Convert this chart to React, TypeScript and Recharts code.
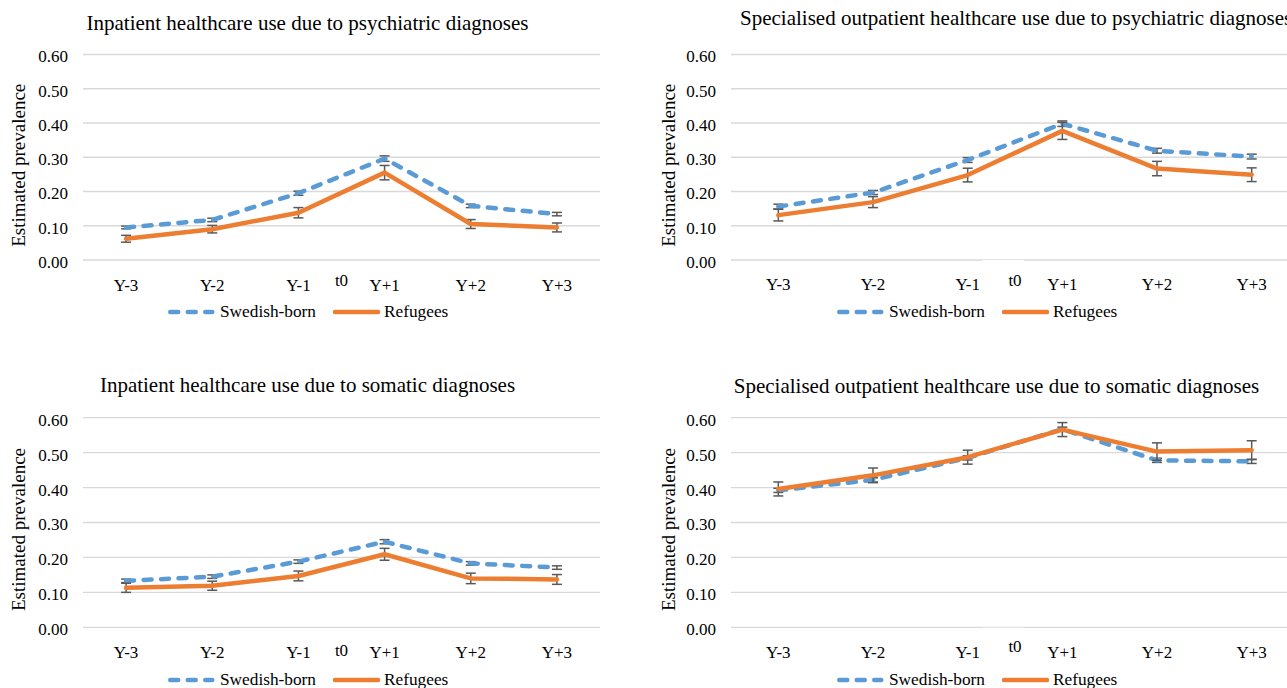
import React from 'react';
import { LineChart, Line, XAxis, YAxis, CartesianGrid, ErrorBar, Legend, Label } from 'recharts';

const categories = ['Y-3', 'Y-2', 'Y-1', 'Y+1', 'Y+2', 'Y+3'];
const yTicks = [0, 0.1, 0.2, 0.3, 0.4, 0.5, 0.6];
const seriesNames = ['Swedish-born', 'Refugees'];
const midLabel = 't0';
const yAxisTitle = 'Estimated prevalence';

const titles = [
  'Inpatient healthcare use due to psychiatric diagnoses',
  'Specialised outpatient healthcare use due to psychiatric diagnoses',
  'Inpatient healthcare use due to somatic diagnoses',
  'Specialised outpatient healthcare use due to somatic diagnoses',
];

// Panel 1: inpatient, psychiatric
const inpPsySwedish = [0.095, 0.117, 0.195, 0.296, 0.158, 0.134];
const inpPsySwedishErr = [0.004, 0.005, 0.006, 0.008, 0.005, 0.005];
const inpPsyRefugees = [0.062, 0.09, 0.138, 0.255, 0.105, 0.095];
const inpPsyRefugeesErr = [0.01, 0.011, 0.015, 0.021, 0.013, 0.013];

// Panel 2: specialised outpatient, psychiatric
const outPsySwedish = [0.156, 0.197, 0.292, 0.398, 0.319, 0.302];
const outPsySwedishErr = [0.007, 0.006, 0.007, 0.008, 0.007, 0.007];
const outPsyRefugees = [0.131, 0.169, 0.248, 0.377, 0.267, 0.249];
const outPsyRefugeesErr = [0.017, 0.016, 0.02, 0.025, 0.021, 0.02];

// Panel 3: inpatient, somatic
const inpSomSwedish = [0.133, 0.145, 0.188, 0.245, 0.183, 0.171];
const inpSomSwedishErr = [0.005, 0.005, 0.005, 0.006, 0.005, 0.005];
const inpSomRefugees = [0.113, 0.119, 0.147, 0.209, 0.14, 0.137];
const inpSomRefugeesErr = [0.013, 0.013, 0.014, 0.017, 0.015, 0.014];

// Panel 4: specialised outpatient, somatic
const outSomSwedish = [0.392, 0.422, 0.485, 0.567, 0.478, 0.475];
const outSomSwedishErr = [0.006, 0.006, 0.006, 0.006, 0.006, 0.006];
const outSomRefugees = [0.396, 0.435, 0.487, 0.566, 0.503, 0.507];
const outSomRefugeesErr = [0.02, 0.021, 0.02, 0.02, 0.025, 0.027];

const FONT = "'Liberation Serif', 'Times New Roman', serif";
const BLUE = '#5B9BD5';
const ORANGE = '#ED7D31';
const ERR = '#595959';
const GRID = '#d9d9d9';
const DASH = '8 9.5';

const buildData = (s: number[], se: number[], r: number[], re: number[]) =>
  categories.map((cat, i) => ({ cat, swedish: s[i], swedishErr: se[i], refugees: r[i], refugeesErr: re[i] }));

type PanelCfg = {
  left: number;
  top: number;
  width: number;
  height: number;
  yAxisWidth: number;
  marginTop: number;
  marginBottom: number;
  marginRight: number;
  data: any[];
  title: string;
  titleX: number;
  titleY: number;
  titleAnchor: 'center' | 'left';
  tickMargin: number;
  t0Dy: number;
  t0Mask: boolean;
  legendTop: number;
  legendLeft: number;
  yLabelDy: number;
};

const LegendContent = () => (
  <div style={{ display: 'flex', alignItems: 'center', whiteSpace: 'nowrap', fontFamily: FONT, fontSize: 17.3, lineHeight: '20px', color: '#000' }}>
    <svg width={47} height={10} style={{ display: 'block' }}>
      <line x1={2.25} y1={5} x2={44.25} y2={5} stroke={BLUE} strokeWidth={4.5} strokeDasharray={DASH} strokeLinecap="round" />
    </svg>
    <span style={{ marginLeft: 5 }}>{seriesNames[0]}</span>
    <svg width={47} height={10} style={{ display: 'block', marginLeft: 17 }}>
      <line x1={2} y1={5} x2={45} y2={5} stroke={ORANGE} strokeWidth={4.5} strokeLinecap="round" />
    </svg>
    <span style={{ marginLeft: 4 }}>{seriesNames[1]}</span>
  </div>
);

const Panel = (c: PanelCfg) => {
  const plotWidth = c.width - c.yAxisWidth - c.marginRight;
  const band = plotWidth / categories.length;

  const XTick = (props: any) => {
    const { x, y, payload } = props;
    return (
      <g>
        {payload.value === 'Y+1' && c.t0Mask && (
          <rect x={x - band / 2 - 33} y={y - 24} width={42} height={34} fill="#fff" />
        )}
        <text x={x} y={y} dy="0.35em" textAnchor="middle" style={{ fontFamily: FONT, fontSize: 17 }} fill="#000">
          {payload.value}
        </text>
        {payload.value === 'Y+1' && (
          <text x={x - band / 2} y={y + c.t0Dy} dy="0.35em" textAnchor="middle" style={{ fontFamily: FONT, fontSize: 17 }} fill="#000">
            {midLabel}
          </text>
        )}
      </g>
    );
  };

  const YTick = (props: any) => {
    const { x, y, payload } = props;
    return (
      <text x={x} y={y + 2} dy="0.35em" textAnchor="end" style={{ fontFamily: FONT, fontSize: 17 }} fill="#000">
        {Number(payload.value).toFixed(2)}
      </text>
    );
  };

  const YLabel = (props: any) => {
    const vb = props.viewBox || { x: 0, y: 0, width: 0, height: 0 };
    const cx = vb.x + 18;
    const cy = vb.y + vb.height / 2 + c.yLabelDy;
    return (
      <text x={cx} y={cy} transform={`rotate(-90, ${cx}, ${cy})`} textAnchor="middle" dy="0.35em" style={{ fontFamily: FONT, fontSize: 19 }} fill="#000">
        {yAxisTitle}
      </text>
    );
  };

  return (
    <div style={{ position: 'absolute', left: c.left, top: c.top, width: c.width, height: c.height }}>
      <div
        style={{
          position: 'absolute',
          left: c.titleAnchor === 'center' ? c.titleX - 400 : c.titleX,
          width: c.titleAnchor === 'center' ? 800 : undefined,
          textAlign: c.titleAnchor === 'center' ? 'center' : 'left',
          top: c.titleY - 12,
          lineHeight: '24px',
          fontFamily: FONT,
          fontSize: 21,
          whiteSpace: 'nowrap',
          color: '#000',
          zIndex: 2,
        }}
      >
        {c.title}
      </div>
      <LineChart
        width={c.width}
        height={c.height}
        data={c.data}
        margin={{ top: c.marginTop, right: c.marginRight, bottom: c.marginBottom, left: 0 }}
      >
        <CartesianGrid vertical={false} stroke={GRID} strokeWidth={1.3} />
        <XAxis
          dataKey="cat"
          axisLine={false}
          tickLine={false}
          tickSize={0}
          tickMargin={c.tickMargin}
          height={40}
          interval={0}
          padding={{ left: band / 2, right: band / 2 }}
          tick={XTick}
        />
        <YAxis
          domain={[0, 0.6]}
          ticks={yTicks}
          axisLine={false}
          tickLine={false}
          tickSize={0}
          tickMargin={15}
          width={c.yAxisWidth}
          tick={YTick}
          interval={0}
        >
          <Label content={YLabel} />
        </YAxis>
        <Line
          type="linear"
          dataKey="swedish"
          name={seriesNames[0]}
          stroke={BLUE}
          strokeWidth={4.5}
          strokeDasharray={DASH}
          strokeLinecap="round"
          strokeLinejoin="round"
          dot={false}
          activeDot={false}
          isAnimationActive={false}
        >
          <ErrorBar dataKey="swedishErr" width={5} stroke={ERR} strokeWidth={1.5} direction="y" />
        </Line>
        <Line
          type="linear"
          dataKey="refugees"
          name={seriesNames[1]}
          stroke={ORANGE}
          strokeWidth={4.5}
          strokeLinecap="round"
          strokeLinejoin="round"
          dot={false}
          activeDot={false}
          isAnimationActive={false}
        >
          <ErrorBar dataKey="refugeesErr" width={5} stroke={ERR} strokeWidth={1.5} direction="y" />
        </Line>
        <Legend
          verticalAlign="middle"
          align="center"
          layout="horizontal"
          wrapperStyle={{ top: c.legendTop, left: c.legendLeft, width: 'auto', height: 20 }}
          content={LegendContent}
        />
      </LineChart>
    </div>
  );
};

const panels: PanelCfg[] = [
  {
    left: 0, top: 0, width: 620, height: 330, yAxisWidth: 83, marginTop: 54.5, marginBottom: 30, marginRight: 20,
    data: buildData(inpPsySwedish, inpPsySwedishErr, inpPsyRefugees, inpPsyRefugeesErr),
    title: titles[0], titleX: 307.5, titleY: 22.5, titleAnchor: 'center',
    tickMargin: 25, t0Dy: -5, t0Mask: false, legendTop: 302, legendLeft: 168, yLabelDy: 8,
  },
  {
    left: 650, top: 0, width: 650, height: 330, yAxisWidth: 81, marginTop: 54.5, marginBottom: 30, marginRight: 1,
    data: buildData(outPsySwedish, outPsySwedishErr, outPsyRefugees, outPsyRefugeesErr),
    title: titles[1], titleX: 90, titleY: 18, titleAnchor: 'left',
    tickMargin: 24, t0Dy: -4, t0Mask: true, legendTop: 302, legendLeft: 187, yLabelDy: 8,
  },
  {
    left: 0, top: 360, width: 620, height: 328, yAxisWidth: 83, marginTop: 57.7, marginBottom: 20.7, marginRight: 20,
    data: buildData(inpSomSwedish, inpSomSwedishErr, inpSomRefugees, inpSomRefugeesErr),
    title: titles[2], titleX: 307.5, titleY: 24.5, titleAnchor: 'center',
    tickMargin: 24.4, t0Dy: -2, t0Mask: false, legendTop: 310, legendLeft: 168, yLabelDy: 7,
  },
  {
    left: 650, top: 360, width: 650, height: 328, yAxisWidth: 81, marginTop: 57.7, marginBottom: 20.7, marginRight: 1,
    data: buildData(outSomSwedish, outSomSwedishErr, outSomRefugees, outSomRefugeesErr),
    title: titles[3], titleX: 346.5, titleY: 26, titleAnchor: 'center',
    tickMargin: 24.4, t0Dy: -6, t0Mask: true, legendTop: 310, legendLeft: 187, yLabelDy: 7,
  },
];

export default function App() {
  return (
    <div style={{ position: 'absolute', left: 0, top: 0, width: 1287, height: 688, overflow: 'hidden', background: '#fff' }}>
      {panels.map((p, i) => (
        <Panel key={i} {...p} />
      ))}
    </div>
  );
}
